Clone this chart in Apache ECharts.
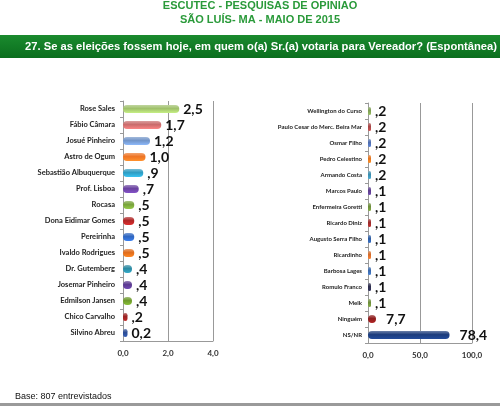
<!DOCTYPE html>
<html>
<head>
<meta charset="utf-8">
<script src="https://cdn.jsdelivr.net/npm/echarts@6/dist/echarts.min.js"></script>
<style>
  html, body { margin: 0; padding: 0; background: #fff; }
  #chart { width: 500px; height: 406px; }
</style>
</head>
<body>
<div id="chart"></div>
<script>
// left panel
var leftNames = ['Rose Sales', 'Fábio Câmara', 'Josué Pinheiro', 'Astro de Ogum', 'Sebastião Albuquerque',
  'Prof. Lisboa', 'Rocasa', 'Dona Eidimar Gomes', 'Pereirinha', 'Ivaldo Rodrigues',
  'Dr. Gutemberg', 'Josemar Pinheiro', 'Edmilson Jansen', 'Chico Carvalho', 'Silvino Abreu'];
var leftValues = [2.5, 1.7, 1.2, 1.0, 0.9, 0.7, 0.5, 0.5, 0.5, 0.5, 0.4, 0.4, 0.4, 0.2, 0.2];
var leftLabels = ['2,5', '1,7', '1,2', '1,0', ',9', ',7', ',5', ',5', ',5', ',5', ',4', ',4', ',4', ',2', '0,2'];
var leftColors = ['#9fc06a', '#c96b6b', '#7194c8', '#ee7424', '#2e9cc2', '#6a42a0', '#78a33a', '#b02525',
  '#2f66c0', '#e06c1c', '#2b8aa2', '#5b3a90', '#6e9a2c', '#9a2222', '#2b4c94'];
var leftTicks = [0, 2, 4];

// right panel
var rightNames = ['Wellington do Curso', 'Paulo Cesar do Merc. Beira Mar', 'Osmar Filho', 'Pedro Celestino',
  'Armando Costa', 'Marcos Paulo', 'Enfermeira Goretti', 'Ricardo Diniz', 'Augusto Serra Filho',
  'Ricardinho', 'Barbosa Lages', 'Romulo Franco', 'Melk', 'Ninguém', 'NS/NR'];
var rightValues = [0.2, 0.2, 0.2, 0.2, 0.2, 0.1, 0.1, 0.1, 0.1, 0.1, 0.1, 0.1, 0.1, 7.7, 78.4];
var rightLabels = [',2', ',2', ',2', ',2', ',2', ',1', ',1', ',1', ',1', ',1', ',1', ',1', ',1', '7,7', '78,4'];
var rightColors = ['#7c9c52', '#a64444', '#4d6cae', '#e2741f', '#3a8cad', '#5b3c8c', '#6c8c3a', '#9a2a2a',
  '#2d5ca2', '#d26a2a', '#3a68aa', '#2c2c4c', '#6c8c3a', '#8e1c1c', '#1c3c7c'];
var rightTicks = [0, 50, 100];

function shade(c) {
  return new echarts.graphic.LinearGradient(0, 0, 0, 1, [
    { offset: 0, color: echarts.color.lift(c, 0.35) },
    { offset: 0.45, color: c },
    { offset: 1, color: echarts.color.lift(c, -0.25) }
  ]);
}

function items(vals, cols) {
  return vals.map(function (v, i) {
    var it = { value: v, itemStyle: { color: shade(cols[i]), borderRadius: 4 } };
    // the bigger 3D bars have a wider end cap, labels sit further out
    if (v > 5) it.label = { distance: 10 };
    return it;
  });
}

function fmt(v) { return v.toFixed(1).replace('.', ','); }

var chart = echarts.init(document.getElementById('chart'));

var labelFont = 'Lato, "DejaVu Sans", sans-serif';
var headFont = 'bold 11px "Liberation Sans", Arial';

var option = {
  animation: false,
  graphic: [
    { type: 'text', x: 260, y: 0,
      style: { text: 'ESCUTEC - PESQUISAS DE OPINIAO', fill: '#2a9a3a', font: headFont, align: 'center' } },
    { type: 'text', x: 260, y: 14,
      style: { text: 'SÃO LUÍS- MA - MAIO DE 2015', fill: '#2a9a3a', font: headFont, align: 'center' } },
    { type: 'rect', shape: { x: 0, y: 35, width: 500, height: 23 },
      style: { fill: new echarts.graphic.LinearGradient(0, 0, 0, 1, [
        { offset: 0, color: '#1a8a2e' }, { offset: 1, color: '#0b6e1e' }]) } },
    { type: 'text', x: 497, y: 41,
      style: { text: '27. Se as eleições fossem hoje, em quem o(a) Sr.(a) votaria para Vereador? (Espontânea)',
        fill: '#fff', font: 'bold 11.2px "Liberation Sans", Arial', align: 'right' } },
    { type: 'text', x: 15, y: 392,
      style: { text: 'Base: 807 entrevistados', fill: '#111', font: '9px "Liberation Sans", Arial' } },
    { type: 'rect', shape: { x: 0, y: 403, width: 500, height: 3 }, style: { fill: '#9a9a9a' } }
  ],
  grid: [
    { left: 123, top: 101, width: 90, height: 240 },
    { left: 368, top: 103, width: 104, height: 240 }
  ],
  xAxis: [
    { gridIndex: 0, type: 'value', min: leftTicks[0], max: leftTicks[leftTicks.length - 1], interval: 2,
      axisLine: { show: true, lineStyle: { color: '#999' } },
      axisTick: { show: false },
      splitLine: { show: true, lineStyle: { color: '#999', width: 1 } },
      axisLabel: { formatter: fmt, fontSize: 8, fontWeight: 'bold', color: '#333', fontFamily: labelFont, margin: 8 } },
    { gridIndex: 1, type: 'value', min: rightTicks[0], max: rightTicks[rightTicks.length - 1], interval: 50,
      axisLine: { show: true, lineStyle: { color: '#999' } },
      axisTick: { show: false },
      splitLine: { show: true, lineStyle: { color: '#999', width: 1 } },
      axisLabel: { formatter: fmt, fontSize: 8, fontWeight: 'bold', color: '#333', fontFamily: labelFont, margin: 8 } }
  ],
  yAxis: [
    { gridIndex: 0, type: 'category', data: leftNames, inverse: true,
      axisLine: { show: true, lineStyle: { color: '#999' } },
      axisTick: { show: true, length: 3, lineStyle: { color: '#999' } },
      axisLabel: { fontSize: 7.5, fontWeight: 'bold', color: '#222', fontFamily: labelFont, margin: 8 } },
    { gridIndex: 1, type: 'category', data: rightNames, inverse: true,
      axisLine: { show: true, lineStyle: { color: '#999' } },
      axisTick: { show: true, length: 3, lineStyle: { color: '#999' } },
      axisLabel: { fontSize: 6, fontWeight: 'bold', color: '#222', fontFamily: labelFont, margin: 6 } }
  ],
  series: [
    { type: 'bar', xAxisIndex: 0, yAxisIndex: 0, barWidth: 8, data: items(leftValues, leftColors),
      label: { show: true, position: 'right', distance: 4,
        formatter: function (p) { return leftLabels[p.dataIndex]; },
        fontSize: 14, fontWeight: 'bold', color: '#111', fontFamily: labelFont } },
    { type: 'bar', xAxisIndex: 1, yAxisIndex: 1, barWidth: 8, barMinHeight: 3, data: items(rightValues, rightColors),
      label: { show: true, position: 'right', distance: 4,
        formatter: function (p) { return rightLabels[p.dataIndex]; },
        fontSize: 14, fontWeight: 'bold', color: '#111', fontFamily: labelFont } }
  ]
};

chart.setOption(option);
</script>
</body>
</html>
